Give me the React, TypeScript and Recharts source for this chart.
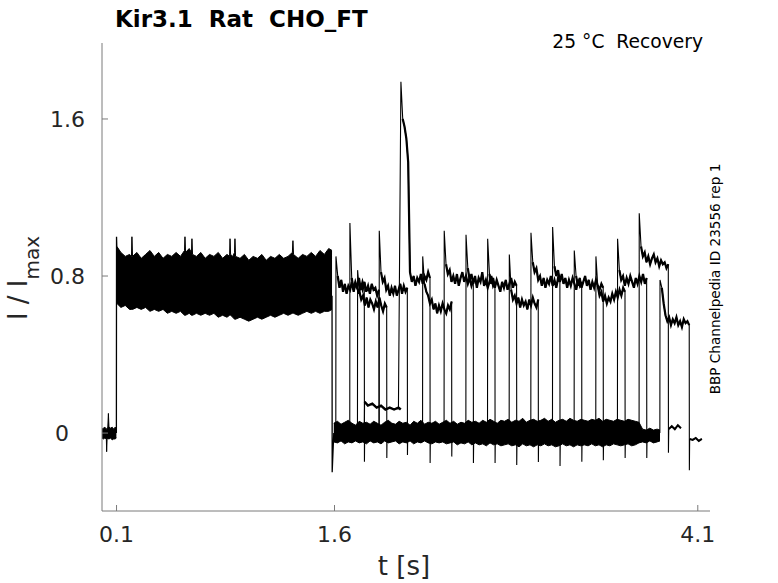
import React from "react";
import { ComposedChart, Line, Area, XAxis, YAxis } from "recharts";

const FONT = "DejaVu Sans";
const AXIS = "#7a7a7a";
const INK = "#262626";

// axis ticks
const xTicks = [0.1, 1.6, 4.1];
const yTicks = [0, 0.8, 1.6];

// holding level before the first pulse
const baseTime = [0, 0.01, 0.02, 0.03, 0.032, 0.035, 0.04, 0.044, 0.048, 0.06, 0.07, 0.08, 0.09, 0.099];
const baseTop = [0.02, 0.025, 0.03, 0.02, 0.02, 0.025, 0.03, 0.1, 0.03, 0.025, 0.03, 0.02, 0.03, 0.025];
const baseBottom = [-0.025, -0.03, -0.025, -0.03, -0.095, -0.03, -0.025, -0.03, -0.03, -0.025, -0.035, -0.03, -0.03, -0.025];

// first pulse, envelope of all sweeps
const p1Time = [
  0.103, 0.13, 0.16, 0.19, 0.203, 0.206, 0.21, 0.24, 0.27, 0.3, 0.33, 0.36, 0.39, 0.42, 0.45, 0.48,
  0.51, 0.54, 0.568, 0.571, 0.575, 0.6, 0.616, 0.619, 0.623, 0.65, 0.68, 0.71, 0.74, 0.77, 0.8, 0.83,
  0.86, 0.878, 0.881, 0.885, 0.9, 0.912, 0.915, 0.919, 0.95, 0.98, 1.01, 1.04, 1.07, 1.1, 1.13, 1.16,
  1.19, 1.22, 1.25, 1.28, 1.31, 1.314, 1.318, 1.35, 1.38, 1.41, 1.44, 1.47, 1.5, 1.53, 1.56, 1.583,
];
const p1Top = [
  0.95, 0.92, 0.9, 0.91, 0.9, 1.0, 0.9, 0.92, 0.89, 0.91, 0.93, 0.9, 0.92, 0.89, 0.91, 0.9,
  0.92, 0.9, 0.93, 1.0, 0.92, 0.94, 0.92, 0.99, 0.91, 0.9, 0.92, 0.89, 0.91, 0.9, 0.92, 0.89,
  0.91, 0.9, 0.99, 0.91, 0.9, 0.92, 0.99, 0.9, 0.89, 0.91, 0.88, 0.9, 0.89, 0.91, 0.88, 0.9,
  0.89, 0.91, 0.89, 0.9, 0.92, 0.98, 0.91, 0.89, 0.91, 0.9, 0.92, 0.9, 0.93, 0.91, 0.94, 0.93,
];
const p1Bottom = [
  0.66, 0.64, 0.65, 0.63, 0.63, 0.63, 0.63, 0.64, 0.63, 0.64, 0.62, 0.63, 0.62, 0.63, 0.61, 0.62,
  0.61, 0.62, 0.6, 0.6, 0.6, 0.61, 0.6, 0.6, 0.6, 0.61, 0.6, 0.61, 0.6, 0.61, 0.59, 0.6,
  0.59, 0.6, 0.6, 0.6, 0.59, 0.58, 0.58, 0.58, 0.59, 0.58, 0.57, 0.58, 0.59, 0.58, 0.59, 0.6,
  0.59, 0.6, 0.61, 0.6, 0.61, 0.61, 0.61, 0.6, 0.61, 0.62, 0.61, 0.62, 0.61, 0.62, 0.62, 0.63,
];

// pulse on / off edges
const onsetTime = [0.099, 0.1, 0.103];
const onsetValue = [0.0, 1.0, 0.92];
const offTime = [1.583, 1.584, 1.595];
const offValue = [0.7, -0.2, 0.0];

// sweeps waiting at holding level after the first pulse
const zeroTime = [
  1.595, 1.62, 1.645, 1.67, 1.695, 1.72, 1.745, 1.77, 1.795, 1.82,
  1.845, 1.87, 1.895, 1.92, 1.945, 1.97, 1.995, 2.02, 2.045, 2.07,
  2.095, 2.12, 2.145, 2.17, 2.195, 2.22, 2.245, 2.27, 2.295, 2.32,
  2.345, 2.37, 2.395, 2.42, 2.445, 2.47, 2.495, 2.52, 2.545, 2.57,
  2.595, 2.62, 2.645, 2.67, 2.695, 2.72, 2.745, 2.77, 2.795, 2.82,
  2.845, 2.87, 2.895, 2.92, 2.945, 2.97, 2.995, 3.02, 3.045, 3.07,
  3.095, 3.12, 3.145, 3.17, 3.195, 3.22, 3.245, 3.27, 3.295, 3.32,
  3.345, 3.37, 3.395, 3.42, 3.445, 3.47, 3.495, 3.52, 3.545, 3.57,
  3.595, 3.62, 3.645, 3.67, 3.695, 3.72, 3.745, 3.77, 3.795, 3.82,
  3.84,
];
const zeroTop = [
  0.05, 0.06, 0.045, 0.055, 0.065, 0.05, 0.04, 0.06, 0.05, 0.055,
  0.045, 0.06, 0.05, 0.04, 0.055, 0.065, 0.05, 0.045, 0.06, 0.05,
  0.055, 0.04, 0.06, 0.05, 0.065, 0.045, 0.055, 0.05, 0.06, 0.045,
  0.055, 0.065, 0.05, 0.06, 0.045, 0.055, 0.05, 0.065, 0.055, 0.06,
  0.05, 0.065, 0.055, 0.07, 0.06, 0.05, 0.065, 0.06, 0.07, 0.055,
  0.065, 0.06, 0.075, 0.055, 0.065, 0.07, 0.06, 0.065, 0.075, 0.06,
  0.07, 0.055, 0.065, 0.07, 0.06, 0.075, 0.065, 0.06, 0.07, 0.065,
  0.06, 0.07, 0.065, 0.075, 0.06, 0.07, 0.065, 0.06, 0.07, 0.065,
  0.06, 0.07, 0.065, 0.06, 0.055, 0.02, 0.015, 0.025, 0.015, 0.02,
  0.015,
];
const zeroBottom = [
  -0.045, -0.05, -0.04, -0.055, -0.045, -0.05, -0.04, -0.05, -0.045, -0.055,
  -0.04, -0.05, -0.045, -0.055, -0.04, -0.05, -0.045, -0.04, -0.055, -0.045,
  -0.05, -0.04, -0.055, -0.045, -0.05, -0.04, -0.05, -0.055, -0.045, -0.05,
  -0.045, -0.055, -0.05, -0.045, -0.06, -0.05, -0.055, -0.045, -0.06, -0.05,
  -0.06, -0.055, -0.065, -0.05, -0.06, -0.055, -0.065, -0.06, -0.055, -0.065,
  -0.06, -0.07, -0.055, -0.065, -0.06, -0.07, -0.06, -0.065, -0.055, -0.065,
  -0.06, -0.07, -0.065, -0.055, -0.065, -0.06, -0.07, -0.06, -0.065, -0.06,
  -0.065, -0.055, -0.065, -0.06, -0.07, -0.06, -0.065, -0.055, -0.06, -0.065,
  -0.06, -0.055, -0.065, -0.06, -0.05, -0.045, -0.05, -0.04, -0.05, -0.045,
  -0.04,
];

// second pulse of each sweep
const sweepStart = [1.61, 1.706, 1.759, 1.908, 2.057, 2.207, 2.355, 2.505, 2.654, 2.803, 2.952, 3.101, 3.25, 3.399, 3.548, 3.697, 3.84];
const sweepEnd = [1.805, 1.906, 1.959, 2.101, 2.257, 2.406, 2.555, 2.704, 2.853, 3.002, 3.151, 3.301, 3.449, 3.599, 3.748, 3.897, 4.041];
const sweepPeak = [0.9, 1.07, 0.83, 1.03, 1.79, 0.9, 1.03, 1.01, 0.99, 0.91, 1.02, 1.05, 0.93, 0.9, 0.99, 1.12, 0.78];
const sweepTrough = [-0.146, -0.05, -0.127, -0.112, -0.153, -0.12, -0.153, -0.153, -0.163, -0.148, -0.168, -0.146, -0.138, -0.127, -0.127, -0.1, -0.19];
const sweepLevels = [
  [0.8, 0.74, 0.78, 0.72, 0.76, 0.71, 0.75, 0.73, 0.77, 0.72, 0.76, 0.74, 0.79, 0.73, 0.77, 0.74],
  [0.79, 0.73, 0.77, 0.74, 0.71, 0.76, 0.73, 0.77, 0.72, 0.75, 0.71, 0.76, 0.73, 0.74, 0.7, 0.73],
  [0.72, 0.68, 0.7, 0.65, 0.69, 0.64, 0.68, 0.66, 0.63, 0.67, 0.64, 0.69, 0.65, 0.62, 0.66, 0.64],
  [0.82, 0.77, 0.79, 0.73, 0.75, 0.7, 0.74, 0.71, 0.75, 0.7, 0.73, 0.76, 0.71, 0.75, 0.72, 0.74],
  [1.6, 1.56, 1.5, 1.38, 0.82, 0.77, 0.8, 0.75, 0.79, 0.77, 0.81, 0.76, 0.8, 0.78, 0.82, 0.79],
  [0.76, 0.72, 0.7, 0.66, 0.68, 0.63, 0.66, 0.61, 0.65, 0.62, 0.66, 0.63, 0.61, 0.65, 0.63, 0.67],
  [0.86, 0.81, 0.83, 0.77, 0.8, 0.76, 0.81, 0.75, 0.79, 0.82, 0.77, 0.8, 0.76, 0.79, 0.75, 0.78],
  [0.84, 0.78, 0.81, 0.76, 0.8, 0.74, 0.79, 0.77, 0.82, 0.75, 0.78, 0.74, 0.77, 0.8, 0.75, 0.77],
  [0.81, 0.76, 0.79, 0.74, 0.78, 0.75, 0.72, 0.77, 0.74, 0.78, 0.73, 0.76, 0.79, 0.74, 0.77, 0.75],
  [0.73, 0.68, 0.7, 0.66, 0.69, 0.64, 0.68, 0.65, 0.67, 0.63, 0.68, 0.65, 0.69, 0.66, 0.64, 0.68],
  [0.87, 0.82, 0.84, 0.78, 0.8, 0.75, 0.79, 0.74, 0.78, 0.76, 0.8, 0.75, 0.78, 0.74, 0.79, 0.77],
  [0.85, 0.8, 0.83, 0.77, 0.81, 0.76, 0.79, 0.74, 0.78, 0.75, 0.79, 0.76, 0.73, 0.78, 0.75, 0.77],
  [0.8, 0.75, 0.79, 0.74, 0.77, 0.8, 0.75, 0.78, 0.73, 0.77, 0.74, 0.78, 0.75, 0.73, 0.76, 0.74],
  [0.75, 0.7, 0.72, 0.67, 0.7, 0.66, 0.69, 0.67, 0.71, 0.68, 0.72, 0.69, 0.73, 0.7, 0.74, 0.72],
  [0.83, 0.78, 0.8, 0.75, 0.79, 0.76, 0.8, 0.77, 0.74, 0.79, 0.76, 0.8, 0.77, 0.81, 0.76, 0.79],
  [0.95, 0.9, 0.92, 0.87, 0.9, 0.86, 0.89, 0.91, 0.87, 0.89, 0.85, 0.88, 0.86, 0.87, 0.84, 0.86],
  [0.74, 0.66, 0.6, 0.57, 0.59, 0.55, 0.58, 0.56, 0.59, 0.55, 0.57, 0.54, 0.58, 0.56, 0.57, 0.55],
];
const sweepTail = [
  [0.01, -0.01, 0.0, -0.02, 0.01],
  [0.0, 0.01, -0.01, 0.0, 0.01],
  [0.01, -0.02, 0.0, -0.01, 0.0],
  [-0.01, 0.0, 0.01, -0.02, 0.0],
  [0.0, -0.01, 0.01, 0.0, -0.02],
  [0.01, 0.0, -0.02, 0.0, 0.01],
  [-0.02, 0.0, 0.01, -0.01, 0.0],
  [0.0, 0.01, -0.02, 0.0, -0.01],
  [-0.01, 0.0, -0.02, 0.01, 0.0],
  [0.0, -0.02, 0.0, -0.01, 0.01],
  [-0.02, 0.0, -0.01, 0.0, -0.02],
  [0.0, -0.01, -0.02, 0.0, -0.01],
  [-0.01, -0.02, 0.0, -0.02, -0.01],
  [-0.02, -0.01, -0.02, 0.0, -0.02],
  [-0.01, -0.02, -0.03, -0.01, -0.02],
  [0.02, 0.035, 0.02, 0.04, 0.025],
  [-0.03, -0.035, -0.025, -0.04, -0.03],
];

// one sweep stepped only partway before its pulse
const stepTime = [1.805, 1.807, 1.83, 1.86, 1.89, 1.92, 1.95, 1.98, 2.01, 2.04, 2.056];
const stepValue = [0.0, 0.16, 0.14, 0.15, 0.13, 0.14, 0.12, 0.13, 0.12, 0.13, 0.12];
const stepSweep = 4;

const band = (times: number[], lo: number[], hi: number[]) =>
  times.map((t, i) => ({ t, range: [lo[i], hi[i]] }));

const trace = (times: number[], values: number[]) => times.map((t, i) => ({ t, v: values[i] }));

// plateau samples of one sweep's second pulse
const plateau = (k: number) => {
  const u = sweepStart[k];
  const d = sweepEnd[k];
  const lv = sweepLevels[k];
  return lv.map((v, i) => ({ t: u + ((d - u) * (i + 1)) / lv.length, v }));
};

// holding level after the second pulse
const tail = (k: number) => sweepTail[k].map((v, j) => ({ t: sweepEnd[k] + 0.003 + 0.021 * j, v }));

const sweepPoints = (k: number) => {
  const u = sweepStart[k];
  const d = sweepEnd[k];
  const pts: { t: number; v: number }[] = [];
  if (k === stepSweep) pts.push(...trace(stepTime, stepValue).slice(0, -1));
  else pts.push({ t: u - 0.001, v: 0 });
  pts.push({ t: u, v: sweepPeak[k] });
  pts.push(...plateau(k));
  pts.push({ t: d + 0.001, v: sweepTrough[k] });
  pts.push(...tail(k));
  return pts;
};

const XTick = ({ x, y, payload }: any) => (
  <g>
    <line x1={x} y1={y} x2={x} y2={y - 6} stroke={AXIS} />
    <text x={x} y={y + 31} textAnchor="middle" fontSize={22} fontFamily={FONT} fill={INK}>
      {payload.value}
    </text>
  </g>
);

const YTick = ({ x, y, payload }: any) => (
  <g>
    <line x1={x} y1={y} x2={x + 6} y2={y} stroke={AXIS} />
    <text
      x={payload.value === 0 ? x - 33 : x - 17}
      y={y + 8}
      textAnchor="end"
      fontSize={22}
      fontFamily={FONT}
      fill={INK}
    >
      {payload.value}
    </text>
  </g>
);

export default function App() {
  return (
    <div style={{ position: "absolute", left: 0, top: 0, width: 778, height: 583, background: "#fff" }}>
      <ComposedChart width={778} height={583} margin={{ top: 43, right: 68, bottom: 12, left: 42 }}>
        <XAxis
          type="number"
          dataKey="t"
          domain={[0, 4.184]}
          ticks={xTicks}
          allowDataOverflow
          height={60}
          tickLine={false}
          tickSize={0}
          tickMargin={0}
          axisLine={{ stroke: AXIS }}
          tick={(p: any) => <XTick {...p} />}
        />
        <YAxis
          type="number"
          domain={[-0.397, 1.987]}
          ticks={yTicks}
          allowDataOverflow
          width={60}
          tickLine={false}
          tickSize={0}
          tickMargin={0}
          axisLine={{ stroke: AXIS }}
          tick={(p: any) => <YTick {...p} />}
        />
        <Area
          data={band(baseTime, baseBottom, baseTop)}
          dataKey="range"
          type="linear"
          stroke="#000"
          strokeWidth={1}
          fill="#000"
          fillOpacity={1}
          isAnimationActive={false}
        />
        <Area
          data={band(p1Time, p1Bottom, p1Top)}
          dataKey="range"
          type="linear"
          stroke="#000"
          strokeWidth={1}
          fill="#000"
          fillOpacity={1}
          isAnimationActive={false}
        />
        <Area
          data={band(zeroTime, zeroBottom, zeroTop)}
          dataKey="range"
          type="linear"
          stroke="#000"
          strokeWidth={1}
          fill="#000"
          fillOpacity={1}
          isAnimationActive={false}
        />
        <Line data={trace(onsetTime, onsetValue)} dataKey="v" type="linear" stroke="#000" strokeWidth={1.3} dot={false} isAnimationActive={false} />
        <Line data={trace(offTime, offValue)} dataKey="v" type="linear" stroke="#000" strokeWidth={1.3} dot={false} isAnimationActive={false} />
        {sweepStart.map((_, k) => (
          <Line
            key={`s${k}`}
            data={sweepPoints(k)}
            dataKey="v"
            type="linear"
            stroke="#000"
            strokeWidth={1.1}
            dot={false}
            isAnimationActive={false}
          />
        ))}
        {sweepStart.map((_, k) => (
          <Line
            key={`p${k}`}
            data={plateau(k)}
            dataKey="v"
            type="linear"
            stroke="#000"
            strokeWidth={2.2}
            dot={false}
            isAnimationActive={false}
          />
        ))}
        {sweepStart.map((_, k) => (
          <Line
            key={`t${k}`}
            data={tail(k)}
            dataKey="v"
            type="linear"
            stroke="#000"
            strokeWidth={2}
            dot={false}
            isAnimationActive={false}
          />
        ))}
        <Line
          data={trace(stepTime, stepValue).slice(1)}
          dataKey="v"
          type="linear"
          stroke="#000"
          strokeWidth={2.4}
          dot={false}
          isAnimationActive={false}
        />
      </ComposedChart>
      <svg
        width={778}
        height={583}
        style={{ position: "absolute", left: 0, top: 0, pointerEvents: "none" }}
        fontFamily={FONT}
      >
        <text x={115} y={27} fontSize={23} fontWeight="bold" fill="#000" style={{ whiteSpace: "pre" }}>
          {"Kir3.1  Rat  CHO_FT"}
        </text>
        <text x={703} y={48} fontSize={18.7} textAnchor="end" fill="#000" style={{ whiteSpace: "pre" }}>
          {"25 °C  Recovery"}
        </text>
        <text
          transform="translate(720, 279) rotate(-90)"
          fontSize={13.6}
          textAnchor="middle"
          fill="#000"
        >
          BBP Channelpedia ID 23556 rep 1
        </text>
        <text x={404} y={575} fontSize={26} textAnchor="middle" fill={INK}>
          t [s]
        </text>
        <text transform="translate(27, 278) rotate(-90)" fontSize={26} textAnchor="middle" fill={INK} style={{ whiteSpace: "pre" }}>
          {"I / I"}
          <tspan fontSize={20} dy={12}>
            max
          </tspan>
        </text>
      </svg>
    </div>
  );
}
